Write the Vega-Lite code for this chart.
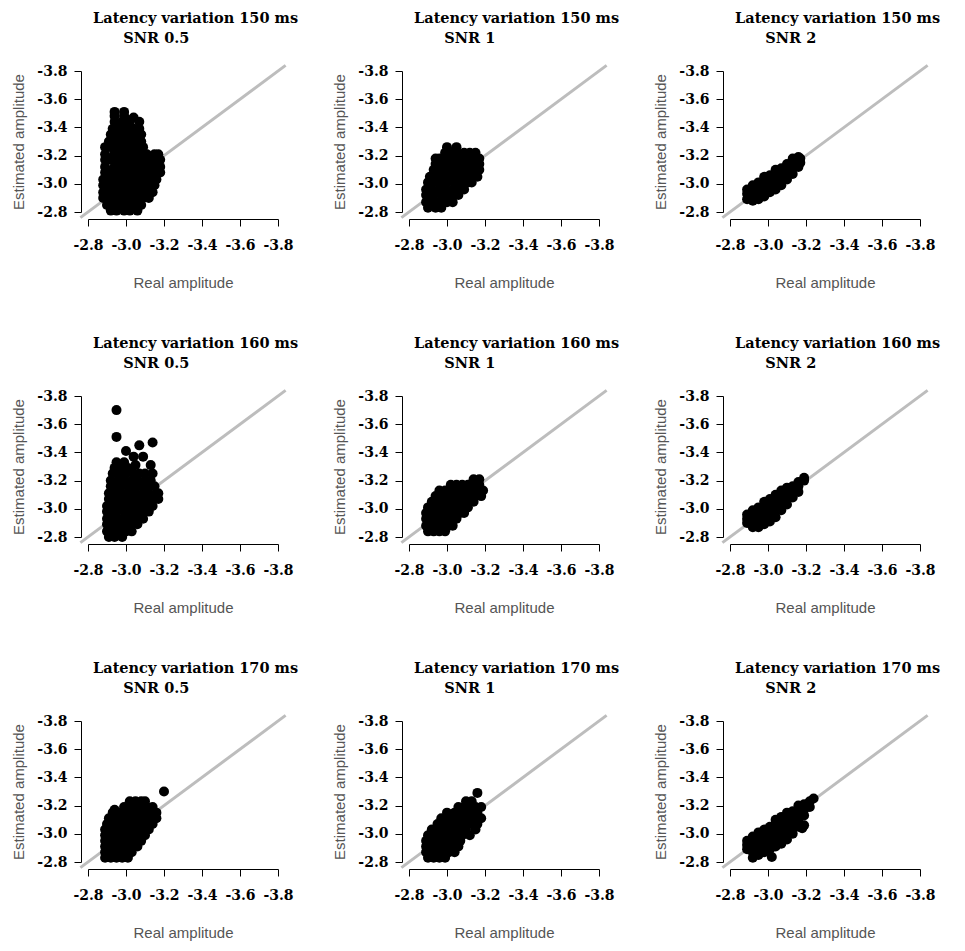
{
"$schema": "https://vega.github.io/schema/vega-lite/v6.json",
"background": "white",
"padding": {"left": 11, "top": 10, "right": 5, "bottom": 5},
"data": {"values": [
{"p":1,"k":1,"x":-2.76,"y":-2.76},{"p":1,"k":1,"x":-3.84,"y":-3.84},
{"p":2,"k":1,"x":-2.76,"y":-2.76},{"p":2,"k":1,"x":-3.84,"y":-3.84},
{"p":3,"k":1,"x":-2.76,"y":-2.76},{"p":3,"k":1,"x":-3.84,"y":-3.84},
{"p":4,"k":1,"x":-2.76,"y":-2.76},{"p":4,"k":1,"x":-3.84,"y":-3.84},
{"p":5,"k":1,"x":-2.76,"y":-2.76},{"p":5,"k":1,"x":-3.84,"y":-3.84},
{"p":6,"k":1,"x":-2.76,"y":-2.76},{"p":6,"k":1,"x":-3.84,"y":-3.84},
{"p":7,"k":1,"x":-2.76,"y":-2.76},{"p":7,"k":1,"x":-3.84,"y":-3.84},
{"p":8,"k":1,"x":-2.76,"y":-2.76},{"p":8,"k":1,"x":-3.84,"y":-3.84},
{"p":9,"k":1,"x":-2.76,"y":-2.76},{"p":9,"k":1,"x":-3.84,"y":-3.84},
{"p":1,"x":-2.92,"y":-2.81},{"p":1,"x":-2.95,"y":-2.81},{"p":1,"x":-2.99,"y":-2.81},{"p":1,"x":-3.02,"y":-2.81},{"p":1,"x":-3.06,"y":-2.81},
{"p":1,"x":-2.90,"y":-2.85},{"p":1,"x":-2.94,"y":-2.85},{"p":1,"x":-2.97,"y":-2.85},{"p":1,"x":-3.01,"y":-2.85},{"p":1,"x":-3.04,"y":-2.85},{"p":1,"x":-3.08,"y":-2.85},
{"p":1,"x":-2.88,"y":-2.90},{"p":1,"x":-2.92,"y":-2.90},{"p":1,"x":-2.95,"y":-2.90},{"p":1,"x":-2.99,"y":-2.90},{"p":1,"x":-3.02,"y":-2.90},{"p":1,"x":-3.06,"y":-2.90},{"p":1,"x":-3.09,"y":-2.90},{"p":1,"x":-3.12,"y":-2.90},
{"p":1,"x":-2.88,"y":-2.94},{"p":1,"x":-2.90,"y":-2.94},{"p":1,"x":-2.94,"y":-2.94},{"p":1,"x":-2.97,"y":-2.94},{"p":1,"x":-3.01,"y":-2.94},{"p":1,"x":-3.04,"y":-2.94},{"p":1,"x":-3.08,"y":-2.94},{"p":1,"x":-3.11,"y":-2.94},{"p":1,"x":-3.14,"y":-2.94},
{"p":1,"x":-2.88,"y":-2.99},{"p":1,"x":-2.92,"y":-2.99},{"p":1,"x":-2.95,"y":-2.99},{"p":1,"x":-2.99,"y":-2.99},{"p":1,"x":-3.02,"y":-2.99},{"p":1,"x":-3.06,"y":-2.99},{"p":1,"x":-3.09,"y":-2.99},{"p":1,"x":-3.13,"y":-2.99},{"p":1,"x":-3.15,"y":-2.99},
{"p":1,"x":-2.88,"y":-3.03},{"p":1,"x":-2.90,"y":-3.03},{"p":1,"x":-2.94,"y":-3.03},{"p":1,"x":-2.97,"y":-3.03},{"p":1,"x":-3.01,"y":-3.03},{"p":1,"x":-3.04,"y":-3.03},{"p":1,"x":-3.08,"y":-3.03},{"p":1,"x":-3.11,"y":-3.03},{"p":1,"x":-3.15,"y":-3.03},{"p":1,"x":-3.16,"y":-3.03},
{"p":1,"x":-2.89,"y":-3.08},{"p":1,"x":-2.92,"y":-3.08},{"p":1,"x":-2.95,"y":-3.08},{"p":1,"x":-2.99,"y":-3.08},{"p":1,"x":-3.02,"y":-3.08},{"p":1,"x":-3.06,"y":-3.08},{"p":1,"x":-3.09,"y":-3.08},{"p":1,"x":-3.13,"y":-3.08},{"p":1,"x":-3.16,"y":-3.08},{"p":1,"x":-3.18,"y":-3.08},
{"p":1,"x":-2.89,"y":-3.12},{"p":1,"x":-2.94,"y":-3.12},{"p":1,"x":-2.97,"y":-3.12},{"p":1,"x":-3.01,"y":-3.12},{"p":1,"x":-3.04,"y":-3.12},{"p":1,"x":-3.08,"y":-3.12},{"p":1,"x":-3.11,"y":-3.12},{"p":1,"x":-3.15,"y":-3.12},{"p":1,"x":-3.18,"y":-3.12},
{"p":1,"x":-2.89,"y":-3.17},{"p":1,"x":-2.92,"y":-3.17},{"p":1,"x":-2.95,"y":-3.17},{"p":1,"x":-2.99,"y":-3.17},{"p":1,"x":-3.02,"y":-3.17},{"p":1,"x":-3.06,"y":-3.17},{"p":1,"x":-3.09,"y":-3.17},{"p":1,"x":-3.13,"y":-3.17},{"p":1,"x":-3.16,"y":-3.17},{"p":1,"x":-3.18,"y":-3.17},
{"p":1,"x":-2.89,"y":-3.21},{"p":1,"x":-2.94,"y":-3.21},{"p":1,"x":-2.97,"y":-3.21},{"p":1,"x":-3.01,"y":-3.21},{"p":1,"x":-3.04,"y":-3.21},{"p":1,"x":-3.08,"y":-3.21},{"p":1,"x":-3.11,"y":-3.21},{"p":1,"x":-3.15,"y":-3.21},{"p":1,"x":-3.17,"y":-3.21},
{"p":1,"x":-2.89,"y":-3.26},{"p":1,"x":-2.92,"y":-3.26},{"p":1,"x":-2.95,"y":-3.26},{"p":1,"x":-2.99,"y":-3.26},{"p":1,"x":-3.02,"y":-3.26},{"p":1,"x":-3.06,"y":-3.26},{"p":1,"x":-3.09,"y":-3.26},
{"p":1,"x":-2.91,"y":-3.30},{"p":1,"x":-2.94,"y":-3.30},{"p":1,"x":-2.97,"y":-3.30},{"p":1,"x":-3.01,"y":-3.30},{"p":1,"x":-3.04,"y":-3.30},{"p":1,"x":-3.08,"y":-3.30},
{"p":1,"x":-2.92,"y":-3.35},{"p":1,"x":-2.95,"y":-3.35},{"p":1,"x":-2.99,"y":-3.35},{"p":1,"x":-3.02,"y":-3.35},{"p":1,"x":-3.06,"y":-3.35},{"p":1,"x":-3.08,"y":-3.35},
{"p":1,"x":-2.93,"y":-3.39},{"p":1,"x":-2.97,"y":-3.39},{"p":1,"x":-3.01,"y":-3.39},{"p":1,"x":-3.04,"y":-3.39},{"p":1,"x":-3.07,"y":-3.39},
{"p":1,"x":-2.94,"y":-3.44},{"p":1,"x":-2.98,"y":-3.44},{"p":1,"x":-3.02,"y":-3.44},{"p":1,"x":-3.07,"y":-3.44},
{"p":1,"x":-2.94,"y":-3.48},{"p":1,"x":-2.99,"y":-3.48},{"p":1,"x":-3.04,"y":-3.47},
{"p":1,"x":-2.94,"y":-3.51},{"p":1,"x":-2.99,"y":-3.51},
{"p":2,"x":-2.90,"y":-2.83},{"p":2,"x":-2.94,"y":-2.83},{"p":2,"x":-2.97,"y":-2.83},
{"p":2,"x":-2.89,"y":-2.87},{"p":2,"x":-2.92,"y":-2.87},{"p":2,"x":-2.96,"y":-2.87},{"p":2,"x":-3.00,"y":-2.87},{"p":2,"x":-3.03,"y":-2.87},
{"p":2,"x":-2.89,"y":-2.92},{"p":2,"x":-2.93,"y":-2.92},{"p":2,"x":-2.97,"y":-2.92},{"p":2,"x":-3.00,"y":-2.92},{"p":2,"x":-3.04,"y":-2.92},{"p":2,"x":-3.06,"y":-2.92},
{"p":2,"x":-2.89,"y":-2.96},{"p":2,"x":-2.92,"y":-2.96},{"p":2,"x":-2.96,"y":-2.96},{"p":2,"x":-2.99,"y":-2.96},{"p":2,"x":-3.03,"y":-2.96},{"p":2,"x":-3.06,"y":-2.96},{"p":2,"x":-3.09,"y":-2.96},
{"p":2,"x":-2.90,"y":-3.01},{"p":2,"x":-2.93,"y":-3.01},{"p":2,"x":-2.97,"y":-3.01},{"p":2,"x":-3.00,"y":-3.01},{"p":2,"x":-3.04,"y":-3.01},{"p":2,"x":-3.07,"y":-3.01},{"p":2,"x":-3.11,"y":-3.01},{"p":2,"x":-3.13,"y":-3.01},
{"p":2,"x":-2.91,"y":-3.05},{"p":2,"x":-2.95,"y":-3.05},{"p":2,"x":-2.98,"y":-3.05},{"p":2,"x":-3.02,"y":-3.05},{"p":2,"x":-3.05,"y":-3.05},{"p":2,"x":-3.09,"y":-3.05},{"p":2,"x":-3.12,"y":-3.05},{"p":2,"x":-3.16,"y":-3.05},
{"p":2,"x":-2.93,"y":-3.10},{"p":2,"x":-2.96,"y":-3.10},{"p":2,"x":-3.00,"y":-3.10},{"p":2,"x":-3.03,"y":-3.10},{"p":2,"x":-3.07,"y":-3.10},{"p":2,"x":-3.10,"y":-3.10},{"p":2,"x":-3.14,"y":-3.10},{"p":2,"x":-3.17,"y":-3.10},
{"p":2,"x":-2.94,"y":-3.14},{"p":2,"x":-2.98,"y":-3.14},{"p":2,"x":-3.01,"y":-3.14},{"p":2,"x":-3.05,"y":-3.14},{"p":2,"x":-3.08,"y":-3.14},{"p":2,"x":-3.12,"y":-3.14},{"p":2,"x":-3.15,"y":-3.14},{"p":2,"x":-3.17,"y":-3.14},
{"p":2,"x":-2.94,"y":-3.18},{"p":2,"x":-2.96,"y":-3.18},{"p":2,"x":-3.00,"y":-3.18},{"p":2,"x":-3.03,"y":-3.18},{"p":2,"x":-3.07,"y":-3.18},{"p":2,"x":-3.10,"y":-3.18},{"p":2,"x":-3.14,"y":-3.18},{"p":2,"x":-3.17,"y":-3.18},
{"p":2,"x":-2.99,"y":-3.22},{"p":2,"x":-3.02,"y":-3.22},{"p":2,"x":-3.05,"y":-3.22},{"p":2,"x":-3.09,"y":-3.22},{"p":2,"x":-3.12,"y":-3.22},{"p":2,"x":-3.15,"y":-3.22},
{"p":2,"x":-3.00,"y":-3.26},{"p":2,"x":-3.05,"y":-3.26},
{"p":3,"x":-2.89,"y":-2.89},{"p":3,"x":-2.89,"y":-2.93},{"p":3,"x":-2.89,"y":-2.96},
{"p":3,"x":-2.92,"y":-2.88},{"p":3,"x":-2.92,"y":-2.92},{"p":3,"x":-2.92,"y":-2.96},{"p":3,"x":-2.92,"y":-2.99},
{"p":3,"x":-2.95,"y":-2.89},{"p":3,"x":-2.95,"y":-2.93},{"p":3,"x":-2.95,"y":-2.97},{"p":3,"x":-2.95,"y":-3.01},
{"p":3,"x":-2.98,"y":-2.91},{"p":3,"x":-2.98,"y":-2.95},{"p":3,"x":-2.98,"y":-2.99},{"p":3,"x":-2.98,"y":-3.03},{"p":3,"x":-2.98,"y":-3.05},
{"p":3,"x":-3.01,"y":-2.94},{"p":3,"x":-3.01,"y":-2.98},{"p":3,"x":-3.01,"y":-3.02},{"p":3,"x":-3.01,"y":-3.06},
{"p":3,"x":-3.04,"y":-2.96},{"p":3,"x":-3.04,"y":-3.00},{"p":3,"x":-3.04,"y":-3.04},{"p":3,"x":-3.04,"y":-3.08},{"p":3,"x":-3.04,"y":-3.10},
{"p":3,"x":-3.07,"y":-2.99},{"p":3,"x":-3.07,"y":-3.03},{"p":3,"x":-3.07,"y":-3.07},{"p":3,"x":-3.07,"y":-3.11},
{"p":3,"x":-3.10,"y":-3.03},{"p":3,"x":-3.10,"y":-3.07},{"p":3,"x":-3.10,"y":-3.11},{"p":3,"x":-3.10,"y":-3.14},
{"p":3,"x":-3.13,"y":-3.07},{"p":3,"x":-3.13,"y":-3.11},{"p":3,"x":-3.13,"y":-3.15},{"p":3,"x":-3.13,"y":-3.18},
{"p":3,"x":-3.16,"y":-3.12},{"p":3,"x":-3.16,"y":-3.16},{"p":3,"x":-3.16,"y":-3.19},
{"p":3,"x":-3.17,"y":-3.15},{"p":3,"x":-3.17,"y":-3.18},
{"p":4,"x":-2.91,"y":-2.80},{"p":4,"x":-2.94,"y":-2.80},{"p":4,"x":-2.98,"y":-2.80},
{"p":4,"x":-2.90,"y":-2.84},{"p":4,"x":-2.93,"y":-2.84},{"p":4,"x":-2.96,"y":-2.84},{"p":4,"x":-3.00,"y":-2.84},{"p":4,"x":-3.03,"y":-2.84},
{"p":4,"x":-2.90,"y":-2.89},{"p":4,"x":-2.92,"y":-2.89},{"p":4,"x":-2.95,"y":-2.89},{"p":4,"x":-2.99,"y":-2.89},{"p":4,"x":-3.02,"y":-2.89},{"p":4,"x":-3.06,"y":-2.89},
{"p":4,"x":-2.90,"y":-2.93},{"p":4,"x":-2.93,"y":-2.93},{"p":4,"x":-2.96,"y":-2.93},{"p":4,"x":-3.00,"y":-2.93},{"p":4,"x":-3.03,"y":-2.93},{"p":4,"x":-3.07,"y":-2.93},{"p":4,"x":-3.09,"y":-2.93},
{"p":4,"x":-2.90,"y":-2.98},{"p":4,"x":-2.92,"y":-2.98},{"p":4,"x":-2.95,"y":-2.98},{"p":4,"x":-2.99,"y":-2.98},{"p":4,"x":-3.02,"y":-2.98},{"p":4,"x":-3.06,"y":-2.98},{"p":4,"x":-3.09,"y":-2.98},{"p":4,"x":-3.12,"y":-2.98},
{"p":4,"x":-2.90,"y":-3.02},{"p":4,"x":-2.93,"y":-3.02},{"p":4,"x":-2.96,"y":-3.02},{"p":4,"x":-3.00,"y":-3.02},{"p":4,"x":-3.03,"y":-3.02},{"p":4,"x":-3.07,"y":-3.02},{"p":4,"x":-3.10,"y":-3.02},{"p":4,"x":-3.14,"y":-3.02},
{"p":4,"x":-2.91,"y":-3.07},{"p":4,"x":-2.94,"y":-3.07},{"p":4,"x":-2.97,"y":-3.07},{"p":4,"x":-3.01,"y":-3.07},{"p":4,"x":-3.04,"y":-3.07},{"p":4,"x":-3.08,"y":-3.07},{"p":4,"x":-3.11,"y":-3.07},{"p":4,"x":-3.15,"y":-3.07},{"p":4,"x":-3.17,"y":-3.07},
{"p":4,"x":-2.91,"y":-3.11},{"p":4,"x":-2.95,"y":-3.11},{"p":4,"x":-2.98,"y":-3.11},{"p":4,"x":-3.02,"y":-3.11},{"p":4,"x":-3.05,"y":-3.11},{"p":4,"x":-3.09,"y":-3.11},{"p":4,"x":-3.12,"y":-3.11},{"p":4,"x":-3.16,"y":-3.11},{"p":4,"x":-3.17,"y":-3.11},
{"p":4,"x":-2.92,"y":-3.16},{"p":4,"x":-2.94,"y":-3.16},{"p":4,"x":-2.97,"y":-3.16},{"p":4,"x":-3.01,"y":-3.16},{"p":4,"x":-3.04,"y":-3.16},{"p":4,"x":-3.08,"y":-3.16},{"p":4,"x":-3.11,"y":-3.16},{"p":4,"x":-3.15,"y":-3.16},
{"p":4,"x":-2.92,"y":-3.20},{"p":4,"x":-2.96,"y":-3.20},{"p":4,"x":-2.99,"y":-3.20},{"p":4,"x":-3.03,"y":-3.20},{"p":4,"x":-3.06,"y":-3.20},{"p":4,"x":-3.10,"y":-3.20},{"p":4,"x":-3.13,"y":-3.20},
{"p":4,"x":-2.93,"y":-3.25},{"p":4,"x":-2.97,"y":-3.25},{"p":4,"x":-3.00,"y":-3.25},{"p":4,"x":-3.04,"y":-3.25},{"p":4,"x":-3.07,"y":-3.25},{"p":4,"x":-3.10,"y":-3.25},{"p":4,"x":-3.14,"y":-3.25},
{"p":4,"x":-2.94,"y":-3.29},{"p":4,"x":-2.98,"y":-3.29},{"p":4,"x":-3.01,"y":-3.29},
{"p":4,"x":-2.95,"y":-3.33},{"p":4,"x":-2.99,"y":-3.33},
{"p":4,"x":-2.95,"y":-3.70},{"p":4,"x":-2.95,"y":-3.51},{"p":4,"x":-3.14,"y":-3.47},{"p":4,"x":-3.07,"y":-3.45},{"p":4,"x":-3.00,"y":-3.41},{"p":4,"x":-3.04,"y":-3.37},{"p":4,"x":-3.09,"y":-3.37},{"p":4,"x":-3.13,"y":-3.31},{"p":4,"x":-3.05,"y":-3.31},
{"p":5,"x":-2.90,"y":-2.84},{"p":5,"x":-2.93,"y":-2.84},{"p":5,"x":-2.96,"y":-2.84},{"p":5,"x":-2.99,"y":-2.84},
{"p":5,"x":-2.89,"y":-2.88},{"p":5,"x":-2.92,"y":-2.88},{"p":5,"x":-2.95,"y":-2.88},{"p":5,"x":-2.98,"y":-2.88},{"p":5,"x":-3.01,"y":-2.88},{"p":5,"x":-3.03,"y":-2.88},
{"p":5,"x":-2.89,"y":-2.93},{"p":5,"x":-2.91,"y":-2.93},{"p":5,"x":-2.94,"y":-2.93},{"p":5,"x":-2.97,"y":-2.93},{"p":5,"x":-3.00,"y":-2.93},{"p":5,"x":-3.03,"y":-2.93},{"p":5,"x":-3.05,"y":-2.93},
{"p":5,"x":-2.89,"y":-2.97},{"p":5,"x":-2.92,"y":-2.97},{"p":5,"x":-2.95,"y":-2.97},{"p":5,"x":-2.98,"y":-2.97},{"p":5,"x":-3.01,"y":-2.97},{"p":5,"x":-3.04,"y":-2.97},{"p":5,"x":-3.07,"y":-2.97},{"p":5,"x":-3.09,"y":-2.97},
{"p":5,"x":-2.90,"y":-3.01},{"p":5,"x":-2.93,"y":-3.01},{"p":5,"x":-2.96,"y":-3.01},{"p":5,"x":-2.99,"y":-3.01},{"p":5,"x":-3.02,"y":-3.01},{"p":5,"x":-3.05,"y":-3.01},{"p":5,"x":-3.08,"y":-3.01},{"p":5,"x":-3.11,"y":-3.01},
{"p":5,"x":-2.92,"y":-3.05},{"p":5,"x":-2.95,"y":-3.05},{"p":5,"x":-2.98,"y":-3.05},{"p":5,"x":-3.01,"y":-3.05},{"p":5,"x":-3.04,"y":-3.05},{"p":5,"x":-3.07,"y":-3.05},{"p":5,"x":-3.10,"y":-3.05},{"p":5,"x":-3.14,"y":-3.05},
{"p":5,"x":-2.94,"y":-3.09},{"p":5,"x":-2.97,"y":-3.09},{"p":5,"x":-3.00,"y":-3.09},{"p":5,"x":-3.03,"y":-3.09},{"p":5,"x":-3.06,"y":-3.09},{"p":5,"x":-3.09,"y":-3.09},{"p":5,"x":-3.12,"y":-3.09},{"p":5,"x":-3.15,"y":-3.09},{"p":5,"x":-3.18,"y":-3.09},
{"p":5,"x":-2.96,"y":-3.13},{"p":5,"x":-2.99,"y":-3.13},{"p":5,"x":-3.02,"y":-3.13},{"p":5,"x":-3.05,"y":-3.13},{"p":5,"x":-3.08,"y":-3.13},{"p":5,"x":-3.11,"y":-3.13},{"p":5,"x":-3.14,"y":-3.13},{"p":5,"x":-3.17,"y":-3.13},{"p":5,"x":-3.19,"y":-3.13},
{"p":5,"x":-3.02,"y":-3.17},{"p":5,"x":-3.05,"y":-3.17},{"p":5,"x":-3.08,"y":-3.17},{"p":5,"x":-3.11,"y":-3.17},{"p":5,"x":-3.14,"y":-3.17},{"p":5,"x":-3.17,"y":-3.17},
{"p":5,"x":-3.14,"y":-3.21},{"p":5,"x":-3.17,"y":-3.21},
{"p":6,"x":-2.89,"y":-2.90},{"p":6,"x":-2.89,"y":-2.93},{"p":6,"x":-2.89,"y":-2.96},
{"p":6,"x":-2.92,"y":-2.87},{"p":6,"x":-2.92,"y":-2.91},{"p":6,"x":-2.92,"y":-2.95},{"p":6,"x":-2.92,"y":-2.99},
{"p":6,"x":-2.95,"y":-2.87},{"p":6,"x":-2.95,"y":-2.90},{"p":6,"x":-2.95,"y":-2.94},{"p":6,"x":-2.95,"y":-2.98},{"p":6,"x":-2.95,"y":-3.01},
{"p":6,"x":-2.98,"y":-2.89},{"p":6,"x":-2.98,"y":-2.93},{"p":6,"x":-2.98,"y":-2.97},{"p":6,"x":-2.98,"y":-3.01},{"p":6,"x":-2.98,"y":-3.05},
{"p":6,"x":-3.01,"y":-2.91},{"p":6,"x":-3.01,"y":-2.95},{"p":6,"x":-3.01,"y":-2.99},{"p":6,"x":-3.01,"y":-3.03},{"p":6,"x":-3.01,"y":-3.07},
{"p":6,"x":-3.04,"y":-2.94},{"p":6,"x":-3.04,"y":-2.98},{"p":6,"x":-3.04,"y":-3.02},{"p":6,"x":-3.04,"y":-3.06},{"p":6,"x":-3.04,"y":-3.10},
{"p":6,"x":-3.07,"y":-2.99},{"p":6,"x":-3.07,"y":-3.03},{"p":6,"x":-3.07,"y":-3.07},{"p":6,"x":-3.07,"y":-3.11},{"p":6,"x":-3.07,"y":-3.13},
{"p":6,"x":-3.10,"y":-3.03},{"p":6,"x":-3.10,"y":-3.07},{"p":6,"x":-3.10,"y":-3.11},{"p":6,"x":-3.10,"y":-3.15},
{"p":6,"x":-3.13,"y":-3.08},{"p":6,"x":-3.13,"y":-3.12},{"p":6,"x":-3.13,"y":-3.16},
{"p":6,"x":-3.16,"y":-3.12},{"p":6,"x":-3.16,"y":-3.16},{"p":6,"x":-3.16,"y":-3.19},
{"p":6,"x":-3.19,"y":-3.20},{"p":6,"x":-3.19,"y":-3.22},
{"p":7,"x":-2.89,"y":-2.83},{"p":7,"x":-2.92,"y":-2.83},{"p":7,"x":-2.95,"y":-2.83},{"p":7,"x":-2.98,"y":-2.83},{"p":7,"x":-3.01,"y":-2.83},
{"p":7,"x":-2.89,"y":-2.87},{"p":7,"x":-2.91,"y":-2.87},{"p":7,"x":-2.94,"y":-2.87},{"p":7,"x":-2.97,"y":-2.87},{"p":7,"x":-3.00,"y":-2.87},{"p":7,"x":-3.03,"y":-2.87},
{"p":7,"x":-2.89,"y":-2.91},{"p":7,"x":-2.92,"y":-2.91},{"p":7,"x":-2.95,"y":-2.91},{"p":7,"x":-2.98,"y":-2.91},{"p":7,"x":-3.01,"y":-2.91},{"p":7,"x":-3.04,"y":-2.91},{"p":7,"x":-3.06,"y":-2.91},
{"p":7,"x":-2.89,"y":-2.95},{"p":7,"x":-2.91,"y":-2.95},{"p":7,"x":-2.94,"y":-2.95},{"p":7,"x":-2.97,"y":-2.95},{"p":7,"x":-3.00,"y":-2.95},{"p":7,"x":-3.03,"y":-2.95},{"p":7,"x":-3.06,"y":-2.95},{"p":7,"x":-3.08,"y":-2.95},
{"p":7,"x":-2.89,"y":-2.99},{"p":7,"x":-2.92,"y":-2.99},{"p":7,"x":-2.95,"y":-2.99},{"p":7,"x":-2.98,"y":-2.99},{"p":7,"x":-3.01,"y":-2.99},{"p":7,"x":-3.04,"y":-2.99},{"p":7,"x":-3.07,"y":-2.99},{"p":7,"x":-3.10,"y":-2.99},
{"p":7,"x":-2.89,"y":-3.03},{"p":7,"x":-2.92,"y":-3.03},{"p":7,"x":-2.95,"y":-3.03},{"p":7,"x":-2.98,"y":-3.03},{"p":7,"x":-3.01,"y":-3.03},{"p":7,"x":-3.04,"y":-3.03},{"p":7,"x":-3.07,"y":-3.03},{"p":7,"x":-3.10,"y":-3.03},{"p":7,"x":-3.12,"y":-3.03},
{"p":7,"x":-2.90,"y":-3.07},{"p":7,"x":-2.93,"y":-3.07},{"p":7,"x":-2.96,"y":-3.07},{"p":7,"x":-2.99,"y":-3.07},{"p":7,"x":-3.02,"y":-3.07},{"p":7,"x":-3.05,"y":-3.07},{"p":7,"x":-3.08,"y":-3.07},{"p":7,"x":-3.11,"y":-3.07},{"p":7,"x":-3.14,"y":-3.07},
{"p":7,"x":-2.91,"y":-3.11},{"p":7,"x":-2.94,"y":-3.11},{"p":7,"x":-2.97,"y":-3.11},{"p":7,"x":-3.00,"y":-3.11},{"p":7,"x":-3.03,"y":-3.11},{"p":7,"x":-3.06,"y":-3.11},{"p":7,"x":-3.09,"y":-3.11},{"p":7,"x":-3.12,"y":-3.11},{"p":7,"x":-3.16,"y":-3.11},
{"p":7,"x":-2.93,"y":-3.15},{"p":7,"x":-2.96,"y":-3.15},{"p":7,"x":-2.99,"y":-3.15},{"p":7,"x":-3.02,"y":-3.15},{"p":7,"x":-3.05,"y":-3.15},{"p":7,"x":-3.08,"y":-3.15},{"p":7,"x":-3.11,"y":-3.15},{"p":7,"x":-3.14,"y":-3.15},{"p":7,"x":-3.16,"y":-3.15},
{"p":7,"x":-2.99,"y":-3.19},{"p":7,"x":-3.02,"y":-3.19},{"p":7,"x":-3.05,"y":-3.19},{"p":7,"x":-3.08,"y":-3.19},{"p":7,"x":-3.11,"y":-3.19},{"p":7,"x":-3.14,"y":-3.19},
{"p":7,"x":-3.02,"y":-3.23},{"p":7,"x":-3.05,"y":-3.23},{"p":7,"x":-3.08,"y":-3.23},{"p":7,"x":-3.10,"y":-3.23},
{"p":7,"x":-3.20,"y":-3.30},{"p":7,"x":-2.94,"y":-3.17},
{"p":8,"x":-2.90,"y":-2.83},{"p":8,"x":-2.93,"y":-2.83},{"p":8,"x":-2.96,"y":-2.83},{"p":8,"x":-2.99,"y":-2.83},
{"p":8,"x":-2.89,"y":-2.87},{"p":8,"x":-2.92,"y":-2.87},{"p":8,"x":-2.95,"y":-2.87},{"p":8,"x":-2.98,"y":-2.87},{"p":8,"x":-3.01,"y":-2.87},{"p":8,"x":-3.04,"y":-2.87},
{"p":8,"x":-2.89,"y":-2.91},{"p":8,"x":-2.91,"y":-2.91},{"p":8,"x":-2.94,"y":-2.91},{"p":8,"x":-2.97,"y":-2.91},{"p":8,"x":-3.00,"y":-2.91},{"p":8,"x":-3.03,"y":-2.91},{"p":8,"x":-3.06,"y":-2.91},
{"p":8,"x":-2.89,"y":-2.95},{"p":8,"x":-2.92,"y":-2.95},{"p":8,"x":-2.95,"y":-2.95},{"p":8,"x":-2.98,"y":-2.95},{"p":8,"x":-3.01,"y":-2.95},{"p":8,"x":-3.04,"y":-2.95},{"p":8,"x":-3.07,"y":-2.95},
{"p":8,"x":-2.90,"y":-2.99},{"p":8,"x":-2.93,"y":-2.99},{"p":8,"x":-2.96,"y":-2.99},{"p":8,"x":-2.99,"y":-2.99},{"p":8,"x":-3.02,"y":-2.99},{"p":8,"x":-3.05,"y":-2.99},{"p":8,"x":-3.08,"y":-2.99},{"p":8,"x":-3.12,"y":-2.99},
{"p":8,"x":-2.92,"y":-3.03},{"p":8,"x":-2.95,"y":-3.03},{"p":8,"x":-2.98,"y":-3.03},{"p":8,"x":-3.01,"y":-3.03},{"p":8,"x":-3.04,"y":-3.03},{"p":8,"x":-3.07,"y":-3.03},{"p":8,"x":-3.10,"y":-3.03},{"p":8,"x":-3.15,"y":-3.03},
{"p":8,"x":-2.95,"y":-3.07},{"p":8,"x":-2.98,"y":-3.07},{"p":8,"x":-3.01,"y":-3.07},{"p":8,"x":-3.04,"y":-3.07},{"p":8,"x":-3.07,"y":-3.07},{"p":8,"x":-3.10,"y":-3.07},{"p":8,"x":-3.13,"y":-3.07},{"p":8,"x":-3.16,"y":-3.07},
{"p":8,"x":-2.97,"y":-3.11},{"p":8,"x":-3.00,"y":-3.11},{"p":8,"x":-3.03,"y":-3.11},{"p":8,"x":-3.06,"y":-3.11},{"p":8,"x":-3.09,"y":-3.11},{"p":8,"x":-3.12,"y":-3.11},{"p":8,"x":-3.15,"y":-3.11},{"p":8,"x":-3.18,"y":-3.11},
{"p":8,"x":-3.00,"y":-3.15},{"p":8,"x":-3.04,"y":-3.15},{"p":8,"x":-3.07,"y":-3.15},{"p":8,"x":-3.10,"y":-3.15},{"p":8,"x":-3.13,"y":-3.15},{"p":8,"x":-3.16,"y":-3.15},
{"p":8,"x":-3.06,"y":-3.19},{"p":8,"x":-3.09,"y":-3.19},{"p":8,"x":-3.12,"y":-3.19},{"p":8,"x":-3.15,"y":-3.19},{"p":8,"x":-3.18,"y":-3.19},
{"p":8,"x":-3.10,"y":-3.23},{"p":8,"x":-3.13,"y":-3.23},
{"p":8,"x":-3.16,"y":-3.29},
{"p":9,"x":-2.89,"y":-2.89},{"p":9,"x":-2.89,"y":-2.92},{"p":9,"x":-2.89,"y":-2.95},
{"p":9,"x":-2.92,"y":-2.83},{"p":9,"x":-2.92,"y":-2.87},{"p":9,"x":-2.92,"y":-2.91},{"p":9,"x":-2.92,"y":-2.95},{"p":9,"x":-2.92,"y":-2.98},
{"p":9,"x":-2.95,"y":-2.85},{"p":9,"x":-2.95,"y":-2.89},{"p":9,"x":-2.95,"y":-2.93},{"p":9,"x":-2.95,"y":-2.97},{"p":9,"x":-2.95,"y":-3.01},
{"p":9,"x":-2.98,"y":-2.87},{"p":9,"x":-2.98,"y":-2.91},{"p":9,"x":-2.98,"y":-2.95},{"p":9,"x":-2.98,"y":-2.99},{"p":9,"x":-2.98,"y":-3.03},
{"p":9,"x":-3.01,"y":-2.89},{"p":9,"x":-3.01,"y":-2.93},{"p":9,"x":-3.01,"y":-2.97},{"p":9,"x":-3.01,"y":-3.01},{"p":9,"x":-3.01,"y":-3.05},
{"p":9,"x":-3.04,"y":-2.91},{"p":9,"x":-3.04,"y":-2.95},{"p":9,"x":-3.04,"y":-2.99},{"p":9,"x":-3.04,"y":-3.03},{"p":9,"x":-3.04,"y":-3.07},{"p":9,"x":-3.04,"y":-3.10},
{"p":9,"x":-3.07,"y":-2.93},{"p":9,"x":-3.07,"y":-2.97},{"p":9,"x":-3.07,"y":-3.01},{"p":9,"x":-3.07,"y":-3.05},{"p":9,"x":-3.07,"y":-3.09},{"p":9,"x":-3.07,"y":-3.12},
{"p":9,"x":-3.10,"y":-2.96},{"p":9,"x":-3.10,"y":-3.00},{"p":9,"x":-3.10,"y":-3.04},{"p":9,"x":-3.10,"y":-3.08},{"p":9,"x":-3.10,"y":-3.12},{"p":9,"x":-3.10,"y":-3.15},
{"p":9,"x":-3.13,"y":-3.00},{"p":9,"x":-3.13,"y":-3.04},{"p":9,"x":-3.13,"y":-3.08},{"p":9,"x":-3.13,"y":-3.12},{"p":9,"x":-3.13,"y":-3.16},
{"p":9,"x":-3.16,"y":-3.05},{"p":9,"x":-3.16,"y":-3.09},{"p":9,"x":-3.16,"y":-3.13},{"p":9,"x":-3.16,"y":-3.17},{"p":9,"x":-3.16,"y":-3.20},
{"p":9,"x":-3.19,"y":-3.06},{"p":9,"x":-3.19,"y":-3.13},{"p":9,"x":-3.19,"y":-3.17},{"p":9,"x":-3.19,"y":-3.21},
{"p":9,"x":-3.22,"y":-3.19},{"p":9,"x":-3.22,"y":-3.23},
{"p":9,"x":-3.24,"y":-3.25},
{"p":9,"x":-3.02,"y":-2.835},{"p":9,"x":-3.18,"y":-3.04}
]},
"columns": 3,
"spacing": {"row": 45, "column": 33},
"facet": {
  "field": "p", "type": "ordinal",
  "header": {
    "title": null,
    "labelExpr": "[['\u200b\u00a0Latency variation 150 ms','\u200b\u00a0\u00a0\u00a0\u00a0\u00a0\u00a0\u00a0SNR 0.5'],['\u200b\u00a0Latency variation 150 ms','\u200b\u00a0\u00a0\u00a0\u00a0\u00a0\u00a0\u00a0SNR 1'],['\u200b\u00a0Latency variation 150 ms','\u200b\u00a0\u00a0\u00a0\u00a0\u00a0\u00a0\u00a0SNR 2'],['\u200b\u00a0Latency variation 160 ms','\u200b\u00a0\u00a0\u00a0\u00a0\u00a0\u00a0\u00a0SNR 0.5'],['\u200b\u00a0Latency variation 160 ms','\u200b\u00a0\u00a0\u00a0\u00a0\u00a0\u00a0\u00a0SNR 1'],['\u200b\u00a0Latency variation 160 ms','\u200b\u00a0\u00a0\u00a0\u00a0\u00a0\u00a0\u00a0SNR 2'],['\u200b\u00a0Latency variation 170 ms','\u200b\u00a0\u00a0\u00a0\u00a0\u00a0\u00a0\u00a0SNR 0.5'],['\u200b\u00a0Latency variation 170 ms','\u200b\u00a0\u00a0\u00a0\u00a0\u00a0\u00a0\u00a0SNR 1'],['\u200b\u00a0Latency variation 170 ms','\u200b\u00a0\u00a0\u00a0\u00a0\u00a0\u00a0\u00a0SNR 2']][datum.value-1]",
    "labelAnchor": "start",
    "labelAlign": "left",
    "labelFont": "DejaVu Serif",
    "labelFontWeight": "bold",
    "labelFontSize": 14.5,
    "labelColor": "black",
    "labelLineHeight": 20,
    "labelPadding": 13
  }
},
"resolve": {"axis": {"x": "independent", "y": "independent"}},
"spec": {
  "width": 190,
  "height": 141,
  "encoding": {
    "x": {"field": "x", "type": "quantitative",
      "scale": {"domain": [-3.8, -2.8], "reverse": true, "nice": false, "zero": false},
      "axis": {"title": "Real amplitude", "values": [-2.8, -3.0, -3.2, -3.4, -3.6, -3.8],
        "labelExpr": "'-' + format(-datum.value, '.1f')", "labelPadding": 12, "titlePadding": 23,
        "labelFlush": false, "labelOverlap": false}},
    "y": {"field": "y", "type": "quantitative",
      "scale": {"domain": [-3.8, -2.8], "reverse": true, "nice": false, "zero": false},
      "axis": {"title": "Estimated amplitude", "values": [-2.8, -3.0, -3.2, -3.4, -3.6, -3.8],
        "labelExpr": "'-' + format(-datum.value, '.1f')", "labelPadding": 7, "titlePadding": 10,
        "labelOverlap": false}}
  },
  "layer": [
    {"transform": [{"filter": "datum.k == 1"}],
     "mark": {"type": "line", "color": "#bdbdbd", "strokeWidth": 3, "clip": false}},
    {"transform": [{"filter": "datum.k != 1"}],
     "mark": {"type": "circle", "color": "black", "size": 100, "opacity": 1, "clip": false}}
  ]
},
"config": {
  "view": {"stroke": null},
  "axis": {
    "grid": false, "domainColor": "black", "domainWidth": 1, "tickColor": "black", "tickSize": 7, "offset": 7,
    "labelFont": "DejaVu Serif", "labelFontWeight": "bold", "labelFontSize": 14, "labelColor": "black",
    "titleFont": "Liberation Sans", "titleFontWeight": "normal", "titleFontSize": 15, "titleColor": "#555555"
  }
}
}
